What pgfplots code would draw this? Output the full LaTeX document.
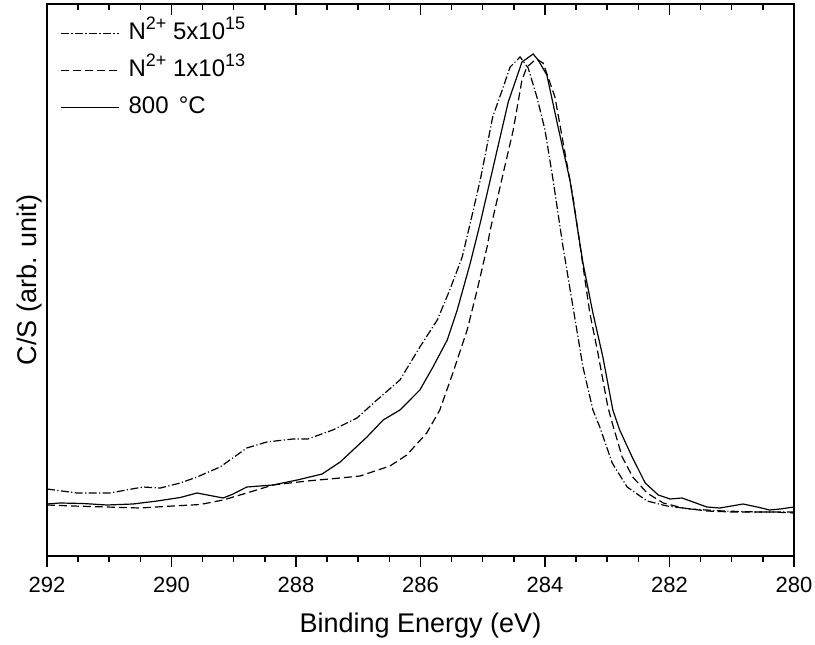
\documentclass[border=0pt]{standalone}
\usepackage{fontspec}
\setmainfont{Liberation Sans}
\usepackage{pgfplots}
\pgfplotsset{compat=1.18}
\newcommand{\sups}[1]{\raisebox{0.42em}{\fontsize{9}{10}\selectfont #1}}
\begin{document}
\begin{tikzpicture}
\pgfplotsset{
  common/.style={
    scale only axis, width=373.5pt, height=276pt,
    x dir=reverse, xmin=280, xmax=292, ymin=0, ymax=552,
    xtick={280,282,284,286,288,290,292}, minor x tick num=3,
    ytick=\empty,
    major tick length=5.5pt, minor tick length=3pt,
    axis line style={line width=1pt},
    tick style={line width=0.75pt, black},
  }
}
\begin{axis}[common, name=main,
  xtick pos=lower, tick align=outside,
  /pgf/number format/assume math mode=true,
  xticklabel style={font=\fontsize{11}{13}\selectfont, inner sep=0pt, anchor=north, yshift=-5pt},
  xlabel={Binding Energy (eV)},
  ylabel={C/S (arb. unit)},
  xlabel style={font=\fontsize{13.5}{16}\selectfont, at={(rel axis cs:0.5,0)}, anchor=north, inner sep=0pt, yshift=-28.5pt},
  ylabel style={font=\fontsize{13.5}{16}\selectfont, at={(rel axis cs:0,0.5)}, anchor=south, rotate=0, inner sep=2.5pt},
  legend style={draw=none, fill=none, at={(0.0174,0.9755)}, anchor=north west, inner sep=0pt,
    font=\fontsize{12}{14}\selectfont, row sep=3pt,
    nodes={inner sep=2pt, text height=9pt, text depth=2.5pt},
    /tikz/every odd column/.style={column sep=2.5pt}},
  legend cell align=left,
  legend image code/.code={\draw[#1] (0pt,0pt) -- (29pt,0pt);},
]
\addplot[black, line width=0.6pt, dash pattern=on 4pt off 1.2pt on 0.6pt off 1.2pt] table {
292.00 67
291.52 63
290.99 63
290.46 69
290.18 68
289.86 73
289.59 79
289.22 89
288.79 108
288.47 114
288.05 117
287.81 117
287.41 126
287.02 138
286.70 156
286.33 176
286.01 209
285.73 236
285.53 266
285.33 299
285.20 333
285.04 376
284.84 439
284.67 469
284.56 489
284.40 499
284.27 488
284.13 459
284.00 426
283.87 376
283.71 309
283.55 249
283.39 189
283.23 146
283.12 129
282.92 93
282.68 69
282.36 55
282.04 50
281.67 47
281.14 45
280.59 44
280.00 44
};
\addlegendentry{N\sups{2+} 5x10\sups{15}}
\addplot[black, line width=0.6pt, dash pattern=on 4pt off 2pt] table {
292.00 51
291.58 50
291.04 49
290.51 48
289.98 50
289.54 51.5
289.17 56
288.79 63
288.37 71
287.82 75
287.29 78
286.97 80
286.49 90
286.22 101
285.90 123
285.69 146
285.48 183
285.25 226
285.09 266
284.93 309
284.88 326
284.67 383
284.51 426
284.37 476
284.29 489
284.14 497
284.03 493
283.84 459
283.65 393
283.55 359
283.28 243
283.15 203
282.99 149
282.92 133
282.76 99
282.59 79
282.36 63
282.10 53
281.78 48
281.40 45
280.98 44
280.34 44
280.00 43
};
\addlegendentry{N\sups{2+} 1x10\sups{13}}
\addplot[black, line width=0.6pt] table {
292.00 52
291.79 53
291.42 52.5
291.04 51
290.62 52
290.23 55
289.86 58.5
289.59 63
289.17 58
289.01 62
288.79 69
288.37 71
287.98 76
287.58 82
287.29 94
286.86 119
286.60 136
286.33 146
286.01 166
285.80 189
285.57 216
285.41 246
285.20 293
285.04 333
284.88 376
284.59 454
284.37 494
284.19 502
284.11 496
283.97 481
283.79 429
283.60 376
283.39 293
283.23 243
283.07 199
282.91 146
282.80 126
282.60 99
282.39 73
282.18 61
281.99 57
281.80 58
281.62 54
281.40 49
281.19 48
280.82 52
280.59 49
280.39 46
280.22 47
280.00 49
};
\addlegendentry{800\hspace{0.15em} °C}
\end{axis}
\begin{axis}[common, xtick pos=upper, tick align=inside, xticklabels={}]
\end{axis}
\pgfresetboundingbox
\path ([shift={(-23.5pt,-44pt)}]main.south west) rectangle ([shift={(10.5pt,2pt)}]main.north east);
\end{tikzpicture}
\end{document}
